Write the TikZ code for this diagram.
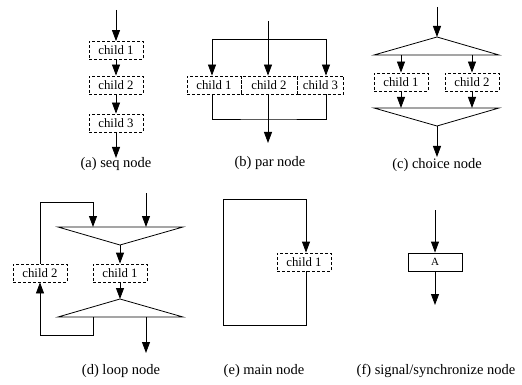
\documentclass[tikz,border=0pt]{standalone}
\usepackage{fontspec}
\setmainfont{Liberation Serif}
\usetikzlibrary{arrows.meta}
\begin{document}
\begin{tikzpicture}[x=1pt,y=-1pt,line width=0.8pt,
  childbox/.style={draw, dash pattern=on 3pt off 2pt, minimum width=54pt, minimum height=18pt, inner sep=0pt, font=\fontsize{12.8}{13}\selectfont},
  solidbox/.style={draw, minimum width=54pt, minimum height=18pt, inner sep=0pt, font=\fontsize{11}{12}\selectfont},
  arr/.style={-{Triangle[length=11pt,width=8pt]}},
  captxt/.style={font=\fontsize{14.5}{15}\selectfont, inner sep=0pt}]
\useasboundingbox (0,0) rectangle (522,385);

% (a) seq node
\node[childbox] (a1) at (116,50.5) {child 1};
\node[childbox] (a2) at (116,85) {child 2};
\node[childbox] (a3) at (116,123) {child 3};
\coordinate (atop) at (116,10);
\coordinate (abot) at (116,158);
\draw[arr] (atop) -- (a1.north);
\draw[arr] (a1.south) -- (a2.north);
\draw[arr] (a2.south) -- (a3.north);
\draw[arr] (a3.south) -- (abot);
\node[captxt] (acap) at (116,164) {(a) seq node};

% (b) par node
\node[childbox, minimum width=54pt] (b1) at (214,85) {child 1};
\node[childbox, minimum width=56pt] (b2) at (269,85) {child 2};
\node[childbox, minimum width=46pt] (b3) at (320.5,85) {child 3};
\coordinate (btop) at (268,21);
\coordinate (bl) at (212,39);
\coordinate (br) at (326,39);
\coordinate (bjoin) at (268,119);
\coordinate (bbot) at (268,143);
\draw (bl) -- (br);
\draw[arr] (btop) -- (b2.north -| btop);
\draw[arr] (bl) -- (b1.north -| bl);
\draw[arr] (br) -- (b3.north -| br);
\draw (b1.south -| bl) |- (bjoin) -| (b3.south -| br);
\draw (b2.south -| btop) -- (bjoin);
\draw[arr] (bjoin) -- (bbot);
\node[captxt] (bcap) at (270,163) {(b) par node};

% (c) choice node
\coordinate (ctop) at (437,7);
\coordinate (capex) at (437,37);
\coordinate (cul) at (374,55);
\coordinate (cur) at (499,55);
\coordinate (cll) at (374,108);
\coordinate (clr) at (499,108);
\coordinate (clapex) at (437,126);
\coordinate (cbot) at (437,157);
\node[childbox] (c1) at (401,82) {child 1};
\node[childbox] (c2) at (472,82) {child 2};
\draw[arr] (ctop) -- (capex);
\draw (capex) -- (cul) -- (cur) -- cycle;
\draw[arr] (c1.north |- cul) -- (c1.north);
\draw[arr] (c2.north |- cur) -- (c2.north);
\draw[arr] (c1.south) -- (c1.south |- cll);
\draw[arr] (c2.south) -- (c2.south |- clr);
\draw (cll) -- (clr) -- (clapex) -- cycle;
\draw[arr] (clapex) -- (cbot);
\node[captxt] (ccap) at (437,165) {(c) choice node};

% (d) loop node
\node[childbox] (d1) at (120,273) {child 1};
\node[childbox] (d2) at (40,273) {child 2};
\coordinate (dtop) at (146,193);
\coordinate (dul) at (58,227);
\coordinate (dur) at (183,227);
\coordinate (dapex) at (120,245);
\coordinate (dlapex) at (120,299);
\coordinate (dll) at (58,317);
\coordinate (dlr) at (183,317);
\coordinate (dloopin) at (93,227);
\coordinate (dloopout) at (93,317);
\coordinate (dloopup) at (93,202);
\coordinate (dloopdn) at (40,335);
\coordinate (dout) at (146,353);
\draw (dul) -- (dur) -- (dapex) -- cycle;
\draw (dlapex) -- (dll) -- (dlr) -- cycle;
\draw[arr] (dtop) -- (dtop |- dur);
\draw[arr] (dapex) -- (d1.north);
\draw[arr] (d1.south) -- (dlapex);
\draw[arr] (d2.north) |- (dloopup) -- (dloopin);
\draw[arr] (dloopout) |- (dloopdn) -- (d2.south);
\draw[arr] (dtop |- dlr) -- (dout);
\node[captxt] (dcap) at (121,371) {(d) loop node};

% (e) main node
\node[childbox] (e1) at (304,262) {child 1};
\coordinate (eR) at (306,0);
\coordinate (ebr) at (306,325);
\coordinate (ebl) at (223,325);
\coordinate (etl) at (223,199);
\coordinate (etr) at (306,199);
\draw[arr] (e1.south -| eR) -- (ebr) -- (ebl) -- (etl) -- (etr) -- (e1.north -| eR);
\node[captxt] (ecap) at (264,371) {(e) main node};

% (f) signal/synchronize node
\node[solidbox] (fA) at (435,262) {A};
\coordinate (ftop) at (435,210);
\coordinate (fbot) at (435,305);
\draw[arr] (ftop) -- (fA.north);
\draw[arr] (fA.south) -- (fbot);
\node[captxt] (fcap) at (436,371) {(f) signal/synchronize node};
\end{tikzpicture}
\end{document}
